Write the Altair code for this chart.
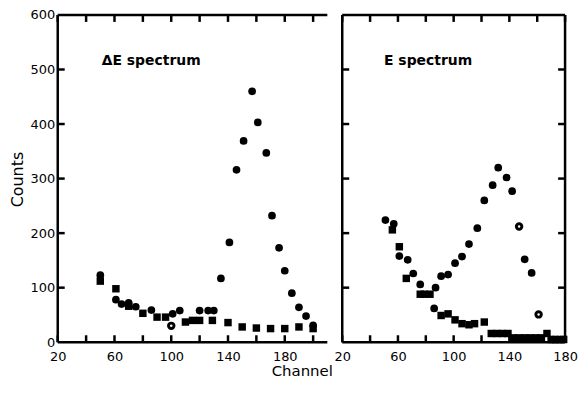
import altair as alt
import pandas as pd

# ---------------- data ----------------
# Delta-E spectrum (left panel)
de_circle_x = [50, 61, 65, 70, 75, 86, 101, 106, 120, 126, 130, 135, 141, 146, 151, 157, 161, 167, 171, 176, 180, 185, 190, 195, 200]
de_circle_y = [123, 78, 70, 72, 65, 59, 52, 58, 58, 58, 58, 117, 183, 316, 369, 460, 403, 347, 232, 173, 131, 90, 64, 48, 31]
de_square_x = [50, 61, 70, 80, 90, 96, 110, 115, 120, 129, 140, 150, 160, 170, 180, 190, 200]
de_square_y = [112, 98, 66, 53, 46, 46, 37, 40, 40, 40, 36, 28, 26, 25, 25, 28, 25]
de_open_x = [100]
de_open_y = [30]

# E spectrum (right panel)
e_circle_x = [51, 57, 61, 67, 71, 76, 86, 87, 91, 96, 101, 106, 111, 117, 122, 128, 132, 138, 142, 151, 156]
e_circle_y = [224, 217, 158, 151, 126, 106, 62, 100, 121, 124, 145, 157, 180, 209, 260, 288, 320, 302, 277, 152, 127]
e_square_x = [56, 61, 66, 76, 79, 83, 91, 96, 101, 106, 111, 115, 122, 127, 131, 135, 139, 143, 147, 151, 155, 159, 163, 167, 170, 173, 176, 179]
e_square_y = [206, 175, 117, 88, 88, 88, 49, 52, 41, 34, 32, 34, 37, 16, 16, 16, 16, 8, 8, 8, 8, 8, 8, 16, 5, 5, 5, 5]
e_open_x = [147, 161]
e_open_y = [212, 51]

panel_labels = ["ΔE spectrum", "E spectrum"]
label_x = [51, 50]
label_y = [515, 515]

x_domain_left = [20, 210]
x_domain_right = [20, 180]
y_domain = [0, 600]
x_ticks_left = [20, 40, 60, 80, 100, 120, 140, 160, 180, 200]
x_ticks_right = [20, 40, 60, 80, 100, 120, 140, 160, 180]
y_ticks = [0, 100, 200, 300, 400, 500, 600]

FONT = "DejaVu Sans"
LBL_EXPR = "datum.value % 40 == 20 ? datum.label : ''"
PLOT_H = 329
W_LEFT = 271
W_RIGHT = 224
TICK_PX = 7


def frame_segments(xd, x_ticks, width, right_side):
    """Frame lines and inward ticks, built from the axis domains and tick values."""
    x0, x1 = xd
    y0, y1 = y_domain
    ty = TICK_PX * (y1 - y0) / PLOT_H
    tx = TICK_PX * (x1 - x0) / width
    seg = [(x0, x1, y0, y0), (x0, x1, y1, y1), (x0, x0, y0, y1)]
    if right_side:
        seg.append((x1, x1, y0, y1))
    for v in x_ticks:
        seg.append((v, v, y0, y0 + ty))
        seg.append((v, v, y1, y1 - ty))
    for v in y_ticks[1:-1]:
        seg.append((x0, x0 + tx, v, v))
        if right_side:
            seg.append((x1 - tx, x1, v, v))
    return pd.DataFrame(seg, columns=["xa", "xb", "ya", "yb"])


def panel(cx, cy, sx, sy, ox, oy, label, lx, ly, xd, x_ticks, width, first):
    xs = alt.Scale(domain=xd, nice=False, zero=False)
    ys = alt.Scale(domain=y_domain, nice=False, zero=False)
    x_bottom = alt.Axis(orient="bottom", values=x_ticks, labelExpr=LBL_EXPR, ticks=False, domain=False,
                        labelPadding=8, labelFlush=False, labelOverlap=False, title=None, grid=False)
    if first:
        y_axis = alt.Axis(orient="left", values=y_ticks, ticks=False, domain=False, labelPadding=3,
                          labelOverlap=False, labelFlush=False, title="Counts", titlePadding=5,
                          titleY=165, grid=False)
    else:
        y_axis = None

    dc = pd.DataFrame({"x": cx, "y": cy})
    ds = pd.DataFrame({"x": sx, "y": sy})
    do = pd.DataFrame({"x": ox, "y": oy})
    dl = pd.DataFrame({"x": [lx], "y": [ly], "t": [label]})
    df = frame_segments(xd, x_ticks, width, not first)

    circles = alt.Chart(dc).mark_circle(size=60, color="black", opacity=1).encode(
        x=alt.X("x:Q", scale=xs, axis=x_bottom), y=alt.Y("y:Q", scale=ys, axis=y_axis),
    )
    frame = alt.Chart(df).mark_rule(color="#000000", strokeWidth=2.5, opacity=1).encode(
        x=alt.X("xa:Q", scale=xs),
        x2=alt.X2("xb:Q"),
        y=alt.Y("ya:Q", scale=ys),
        y2=alt.Y2("yb:Q"),
    )
    squares = alt.Chart(ds).mark_square(size=56, color="black", opacity=1).encode(
        x=alt.X("x:Q", scale=xs), y=alt.Y("y:Q", scale=ys),
    )
    opens = alt.Chart(do).mark_point(size=30, color="black", filled=False, strokeWidth=3, opacity=1).encode(
        x=alt.X("x:Q", scale=xs), y=alt.Y("y:Q", scale=ys),
    )
    text = alt.Chart(dl).mark_text(align="left", baseline="middle", font=FONT, fontSize=14,
                                   fontWeight="bold", color="black").encode(
        x=alt.X("x:Q", scale=xs), y=alt.Y("y:Q", scale=ys), text="t:N",
    )
    return alt.layer(circles, frame, squares, opens, text).properties(width=width, height=PLOT_H)


left = panel(de_circle_x, de_circle_y, de_square_x, de_square_y, de_open_x, de_open_y,
             panel_labels[0], label_x[0], label_y[0], x_domain_left, x_ticks_left, W_LEFT, True)
right = panel(e_circle_x, e_circle_y, e_square_x, e_square_y, e_open_x, e_open_y,
              panel_labels[1], label_x[1], label_y[1], x_domain_right, x_ticks_right, W_RIGHT, False)

chart = alt.hconcat(left, right, spacing=4).properties(
    title=alt.TitleParams("Channel", orient="bottom", anchor="middle", font=FONT, fontSize=15,
                          fontWeight="normal", offset=1, dx=9),
    padding={"left": 1, "top": 0, "right": 0, "bottom": 0},
    background="white",
).configure_view(strokeWidth=0).configure_axis(
    labelFont=FONT, labelFontSize=13, labelColor="black",
    titleFont=FONT, titleFontSize=16, titleFontWeight="normal", titleColor="black",
)

chart.save("out.html", embed_options={"renderer": "svg", "actions": False})
